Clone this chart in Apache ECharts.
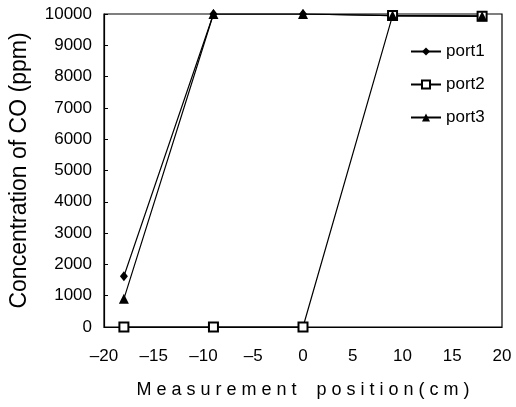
<!DOCTYPE html>
<html>
<head>
<meta charset="utf-8">
<script src="https://cdn.jsdelivr.net/npm/echarts@6/dist/echarts.min.js"></script>
<style>
  html, body { margin: 0; padding: 0; background: #fff; }
  #chart { width: 516px; height: 407px; }
</style>
</head>
<body>
<div id="chart"></div>
<script>
// measurement positions (cm)
var positions = [-18, -9, 0, 9, 18];
// CO concentration (ppm) per port
var port1 = [1620, 10000, 10000, 9950, 9930];
var port2 = [0, 0, 0, 9950, 9930];
var port3 = [900, 10000, 10000, 9950, 9930];
var seriesNames = ["port1", "port2", "port3"];

function pairs(vals) {
  return positions.map(function (x, i) { return [x, vals[i]]; });
}

var font = "Liberation Sans, Arial, sans-serif";
var chart = echarts.init(document.getElementById("chart"));

chart.setOption({
  animation: false,
  backgroundColor: "#fff",
  grid: {
    left: 95,
    right: 14,
    top: 14,
    bottom: 80,
    show: true,
    borderColor: "#000",
    borderWidth: 1.2
  },
  legend: {
    data: seriesNames,
    orient: "vertical",
    left: 405,
    top: 38,
    itemGap: 16,
    itemWidth: 30,
    itemHeight: 10,
    textStyle: { fontFamily: font, fontSize: 17, lineHeight: 14, color: "#000" }
  },
  xAxis: {
    type: "value",
    min: -20,
    max: 20,
    interval: 5,
    name: "M e a s u r e m e n t    p o s i t i o n ( c m )",
    nameLocation: "middle",
    nameGap: 54,
    nameTextStyle: { fontFamily: font, fontSize: 18, color: "#000" },
    axisLine: { onZero: false, lineStyle: { color: "#000", width: 1.2 } },
    axisTick: { show: false },
    splitLine: { show: false },
    axisLabel: {
      fontFamily: font,
      fontSize: 17,
      color: "#000",
      margin: 21,
      formatter: function (v) { return String(v).replace("-", "\u2013"); }
    }
  },
  yAxis: {
    type: "value",
    min: 0,
    max: 10000,
    interval: 1000,
    name: "Concentration of CO (ppm)",
    nameLocation: "middle",
    nameGap: 73,
    nameTextStyle: { fontFamily: font, fontSize: 23, color: "#000" },
    axisLine: { show: true, onZero: false, lineStyle: { color: "#000", width: 1.2 } },
    axisTick: { show: true, inside: true, length: 4, lineStyle: { color: "#000" } },
    splitLine: { show: false },
    axisLabel: {
      fontFamily: font,
      fontSize: 17,
      color: "#000",
      margin: 12,
      formatter: function (v) { return String(v); }
    }
  },
  series: [
    {
      name: "port1",
      type: "line",
      data: pairs(port1),
      symbol: "diamond",
      symbolSize: [8, 10],
      itemStyle: { color: "#000" },
      lineStyle: { color: "#000", width: 1.2 }
    },
    {
      name: "port2",
      type: "line",
      data: pairs(port2),
      symbol: "emptyRect",
      symbolSize: 9,
      itemStyle: { color: "#000", borderWidth: 1.1 },
      lineStyle: { color: "#000", width: 1.2 }
    },
    {
      name: "port3",
      type: "line",
      data: pairs(port3),
      symbol: "triangle",
      symbolSize: 10,
      itemStyle: { color: "#000" },
      lineStyle: { color: "#000", width: 1.2 }
    }
  ]
});
</script>
</body>
</html>
